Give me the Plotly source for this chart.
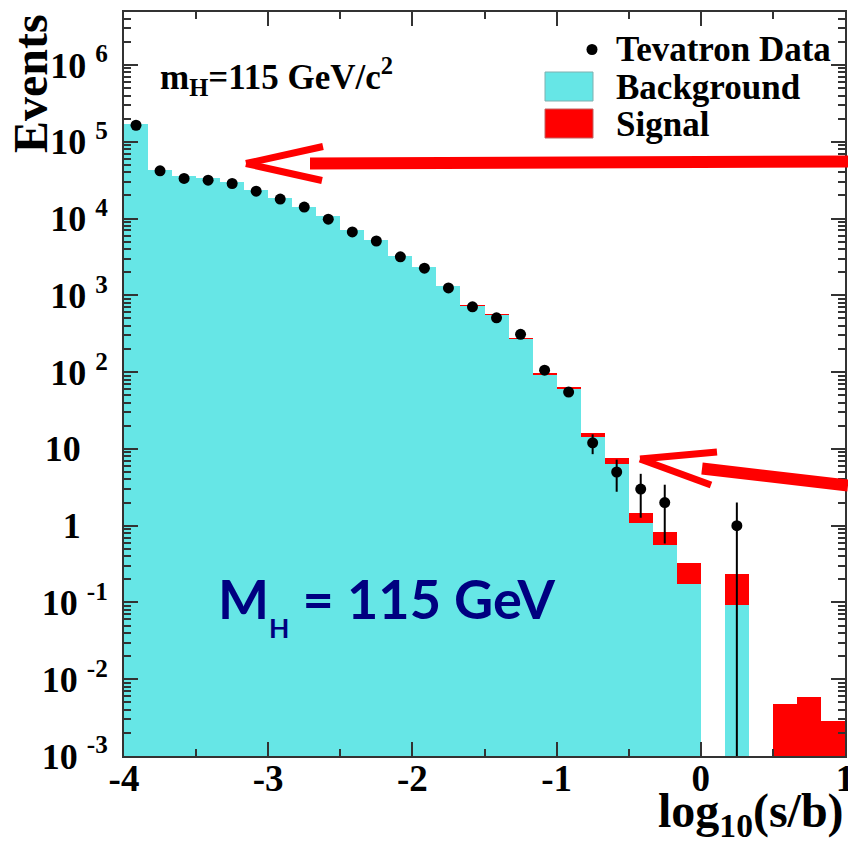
import numpy as np
import plotly.graph_objects as go

# Binning in log10(s/b): 30 equal bins from -4 to 1
bin_lo, bin_hi, n_bins = -4.0, 1.0, 30
edges = np.linspace(bin_lo, bin_hi, n_bins + 1)
centers = 0.5 * (edges[:-1] + edges[1:])
bin_width = (bin_hi - bin_lo) / n_bins

# Expected background per bin
background = [1.68e5, 4.27e4, 3.60e4, 3.33e4, 3.00e4, 2.34e4, 1.83e4, 1.42e4,
              1.07e4, 7060, 5240, 3240, 2350, 1320, 723, 557, 267, 90.6,
              59.6, 14.1, 6.28, 1.07, 0.558, 0.172, 0, 0.093, 0, 0, 0, 0]

# Expected Higgs signal (m_H = 115 GeV) per bin
signal = [12, 6, 6, 6, 6, 6, 6, 6, 6, 6, 6, 8, 10, 12, 14, 17, 13, 5.6,
          3.6, 2.1, 1.24, 0.40, 0.276, 0.157, 0, 0.144, 0, 0.0048, 0.0058, 0.0029]

# Observed events per bin (None = no events)
observed = [164000, 41800, 33300, 31600, 28600, 22700, 17900, 14100, 9800,
            6700, 5100, 3170, 2260, 1250, 708, 509, 310, 106, 55, 12, 5, 3, 2,
            None, None, 1, None, None, None, None]

NB = "\u00a0"
y_ticks = [1e-3, 1e-2, 1e-1, 1, 10, 1e2, 1e3, 1e4, 1e5, 1e6]
y_ticktext = [f"10{NB}<sup>-3</sup>", f"10{NB}<sup>-2</sup>", f"10{NB}<sup>-1</sup>",
              "1" + NB * 3, "10" + NB * 3,
              f"10{NB}<sup>2</sup>", f"10{NB}<sup>3</sup>", f"10{NB}<sup>4</sup>",
              f"10{NB}<sup>5</sup>", f"10{NB}<sup>6</sup>"]
x_ticks = [-4, -3, -2, -1, 0, 1]

CYAN = "#66e6e6"
RED = "#ff0000"
SERIF = "Liberation Serif"

bg = np.array(background, dtype=float)
sg = np.array(signal, dtype=float)
total = bg + sg
obs = np.array([np.nan if v is None else v for v in observed], dtype=float)
err_up = np.sqrt(obs)
err_dn = np.minimum(err_up, obs * (1 - 1e-6))


def pos(arr):
    return [None if (not np.isfinite(v) or v <= 0) else float(v) for v in arr]


fig = go.Figure()
fig.add_trace(go.Bar(x=centers, y=pos(total), width=bin_width,
                     marker=dict(color=RED, line=dict(width=0)), name="Signal"))
fig.add_trace(go.Bar(x=centers, y=pos(bg), width=bin_width,
                     marker=dict(color=CYAN, line=dict(width=0)), name="Background"))
fig.add_trace(go.Scatter(
    x=centers, y=pos(obs), mode="markers", name="Tevatron Data",
    marker=dict(color="black", size=11),
    error_y=dict(type="data", array=pos(err_up), arrayminus=pos(err_dn),
                 thickness=2, width=0, color="black")))

minor_y = [m * 10.0 ** e for e in range(-3, 7) for m in range(2, 10)]

fig.update_layout(
    width=848, height=844,
    margin=dict(l=124, r=3, t=12, b=88),
    paper_bgcolor="white", plot_bgcolor="white",
    barmode="overlay", bargap=0, showlegend=False,
    font=dict(family=SERIF, color="black"),
)
fig.update_xaxes(
    range=[bin_lo, bin_hi], tickvals=x_ticks, ticktext=[f"<b>{v}</b>" for v in x_ticks],
    tickfont=dict(family=SERIF, size=37, color="black"),
    ticks="inside", ticklen=14, tickwidth=1.5, tickcolor="#333",
    minor=dict(dtick=0.5, ticks="inside", ticklen=7, tickwidth=1.5, tickcolor="#333"),
    showline=True, linecolor="#333", linewidth=2, mirror="allticks",
    showgrid=False, zeroline=False, ticklabelstandoff=-11,
    ticklabeloverflow="allow", automargin=False,
)
fig.update_yaxes(
    type="log", range=[-3, 6.69], tickvals=y_ticks,
    ticktext=[f"<b>{t}</b>" for t in y_ticktext],
    tickfont=dict(family=SERIF, size=36, color="black"),
    ticks="inside", ticklen=14, tickwidth=1.5, tickcolor="#333",
    minor=dict(tickvals=minor_y, ticks="inside", ticklen=7, tickwidth=1.5, tickcolor="#333"),
    showline=True, linecolor="#333", linewidth=2, mirror="allticks",
    showgrid=False, zeroline=False, ticklabelstandoff=7, automargin=False,
)

# pixel -> paper helpers for decorations
L, R, T, B = 124, 845, 12, 756


def px(x):
    return (x - L) / (R - L)


def py(y):
    return (B - y) / (B - T)


# Axis titles
fig.add_annotation(xref="paper", yref="paper", x=px(846), y=py(846), xanchor="right", yanchor="bottom",
                   text="<b>log<sub>10</sub>(s/b)</b>", showarrow=False,
                   font=dict(family=SERIF, size=48, color="black"))
fig.add_annotation(xref="paper", yref="paper", x=px(2), y=py(12), xanchor="left", yanchor="top",
                   text="<b>Events</b>", textangle=-90, showarrow=False,
                   font=dict(family=SERIF, size=48, color="black"))

# Mass label
fig.add_annotation(xref="paper", yref="paper", x=px(158), y=py(76), xanchor="left", yanchor="middle",
                   text="<b>m<sub>H</sub>=115 GeV/c<sup>2</sup></b>", showarrow=False,
                   font=dict(family=SERIF, size=35, color="black"))

# Legend
fig.add_shape(type="circle", xref="paper", yref="paper",
              x0=px(586.5), x1=px(597.5), y0=py(55), y1=py(44),
              fillcolor="black", line=dict(width=0))
fig.add_shape(type="rect", xref="paper", yref="paper",
              x0=px(545), x1=px(593), y0=py(101), y1=py(72),
              fillcolor=CYAN, line=dict(color="#7fb0b0", width=1))
fig.add_shape(type="rect", xref="paper", yref="paper",
              x0=px(545), x1=px(593), y0=py(138), y1=py(109),
              fillcolor=RED, line=dict(color="#c06060", width=1))
for label, yc in [("Tevatron Data", 50), ("Background", 87), ("Signal", 125)]:
    fig.add_annotation(xref="paper", yref="paper", x=px(614), y=py(yc), xanchor="left", yanchor="middle",
                       text=f"<b>{label}</b>", showarrow=False,
                       font=dict(family=SERIF, size=35, color="black"))

# Big mass label
fig.add_annotation(xref="paper", yref="paper", x=px(216), y=py(605), xanchor="left", yanchor="middle",
                   text="M<sub><sub>H</sub></sub> = 115 GeV", showarrow=False,
                   font=dict(family="Lato", size=54, color="#000080", weight="bold"))

# Red arrows
def seg(x0, y0, x1, y1, w):
    fig.add_shape(type="line", xref="paper", yref="paper",
                  x0=px(x0), y0=py(y0), x1=px(x1), y1=py(y1),
                  line=dict(color=RED, width=w))


seg(310, 163.5, 848, 161.5, 12)
seg(246, 163.5, 323, 146.5, 7)
seg(246, 163.5, 322, 180.5, 7)

seg(702, 468.5, 848, 485.5, 12)
seg(640, 459, 717, 452, 7)
seg(640, 459, 711, 485, 7)

fig.write_html("out.html")
